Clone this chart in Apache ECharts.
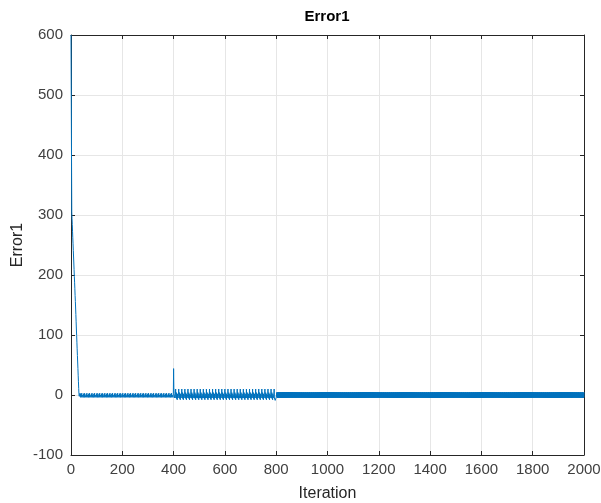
<!DOCTYPE html>
<html>
<head>
<meta charset="utf-8">
<script src="https://cdn.jsdelivr.net/npm/echarts@6/dist/echarts.min.js"></script>
<style>
  html, body { margin: 0; padding: 0; background: #fff; }
  #chart { width: 601px; height: 503px; }
</style>
</head>
<body>
<div id="chart"></div>
<script>
// values
var xTicks = [0, 200, 400, 600, 800, 1000, 1200, 1400, 1600, 1800, 2000];
var yTicks = [-100, 0, 100, 200, 300, 400, 500, 600];

// iterations 0..34: the initial drop
var dropValues = [600, 500, 400, 305, 294, 284, 273, 262, 252, 241, 230, 220, 209, 198, 188,
    177, 166, 156, 145, 134, 122, 110, 99, 88, 77, 66, 55, 44, 33, 22, 11, 2, -2, 1, -2];
// iterations 35..399: small ripple around 0 (one cycle, repeats)
var quietCycle = [2, -3, 3, -4, 0, 3, -3, 1, -4, 2];
// iterations 400..402: the jump at 400
var jumpValues = [44, 12, 2];
// iterations 403..794: teeth between about +10 and -8 (one cycle, repeats)
var toothCycle = [10, -5, -8, 4, -6, -2, -8, 2, -5, -3, -7, 1];
// iterations 795..800: dip just before 800
var dipValues = [-6, -9, -10, -8, -9, -4];
// iterations 801..2000: dense ripple (one cycle, repeats)
var denseCycle = [5, -5, 4, -4, 5, -5, 3, -4];

var errorData = [];
var it = 0;
function pushVal(v) {
    errorData.push([it, v]);
    it++;
}
for (var i = 0; i < dropValues.length; i++) pushVal(dropValues[i]);
while (it < 400) pushVal(quietCycle[it % quietCycle.length]);
for (var i = 0; i < jumpValues.length; i++) pushVal(jumpValues[i]);
while (it < 795) pushVal(toothCycle[it % toothCycle.length]);
for (var i = 0; i < dipValues.length; i++) pushVal(dipValues[i]);
while (it <= 2000) pushVal(denseCycle[it % denseCycle.length]);

var chart = echarts.init(document.getElementById('chart'));

var fontName = 'Liberation Sans, Arial, sans-serif';
var axisColor = '#262626';
var gridColor = '#e6e6e6';
var labelStyle = {
    color: '#404040',
    fontFamily: fontName,
    fontSize: 15,
    formatter: function (v) { return String(v); }
};

var option = {
    animation: false,
    backgroundColor: '#fff',
    title: {
        text: 'Error1',
        left: 327,
        top: 9,
        padding: 0,
        textAlign: 'center',
        textStyle: {
            color: '#000',
            fontFamily: fontName,
            fontSize: 15,
            fontWeight: 'bold'
        }
    },
    grid: {
        left: 71,
        right: 17,
        top: 35,
        bottom: 48,
        containLabel: false,
        outerBoundsMode: 'none'
    },
    xAxis: [{
        type: 'value',
        min: xTicks[0],
        max: xTicks[xTicks.length - 1],
        interval: 200,
        name: 'Iteration',
        nameLocation: 'middle',
        nameGap: 31,
        nameMoveOverlap: false,
        nameTextStyle: {
            color: '#262626',
            fontFamily: fontName,
            fontSize: 16
        },
        axisLine: { onZero: false, lineStyle: { color: axisColor, width: 1 } },
        axisTick: { inside: true, length: 4, lineStyle: { color: axisColor } },
        axisLabel: Object.assign({ margin: 7 }, labelStyle),
        splitLine: { show: true, lineStyle: { color: gridColor, width: 1 } }
    }, {
        type: 'value',
        position: 'top',
        min: xTicks[0],
        max: xTicks[xTicks.length - 1],
        interval: 200,
        axisLine: { onZero: false, lineStyle: { color: axisColor, width: 1 } },
        axisTick: { inside: true, length: 4, lineStyle: { color: axisColor } },
        axisLabel: { show: false },
        splitLine: { show: false }
    }],
    yAxis: [{
        type: 'value',
        min: yTicks[0],
        max: yTicks[yTicks.length - 1],
        interval: 100,
        name: 'Error1',
        nameLocation: 'middle',
        nameGap: 45,
        nameMoveOverlap: false,
        nameTextStyle: {
            color: '#262626',
            fontFamily: fontName,
            fontSize: 16
        },
        axisLine: { show: true, onZero: false, lineStyle: { color: axisColor, width: 1 } },
        axisTick: { show: true, inside: true, length: 4, lineStyle: { color: axisColor } },
        axisLabel: Object.assign({ margin: 8 }, labelStyle),
        splitLine: { show: true, lineStyle: { color: gridColor, width: 1 } }
    }, {
        type: 'value',
        position: 'right',
        min: yTicks[0],
        max: yTicks[yTicks.length - 1],
        interval: 100,
        axisLine: { show: true, onZero: false, lineStyle: { color: axisColor, width: 1 } },
        axisTick: { show: true, inside: true, length: 4, lineStyle: { color: axisColor } },
        axisLabel: { show: false },
        splitLine: { show: false }
    }],
    series: [{
        name: 'Error1',
        type: 'line',
        xAxisIndex: 0,
        yAxisIndex: 0,
        showSymbol: false,
        sampling: null,
        lineStyle: { color: '#0072BD', width: 1 },
        data: errorData
    }]
};

chart.setOption(option);
</script>
</body>
</html>
